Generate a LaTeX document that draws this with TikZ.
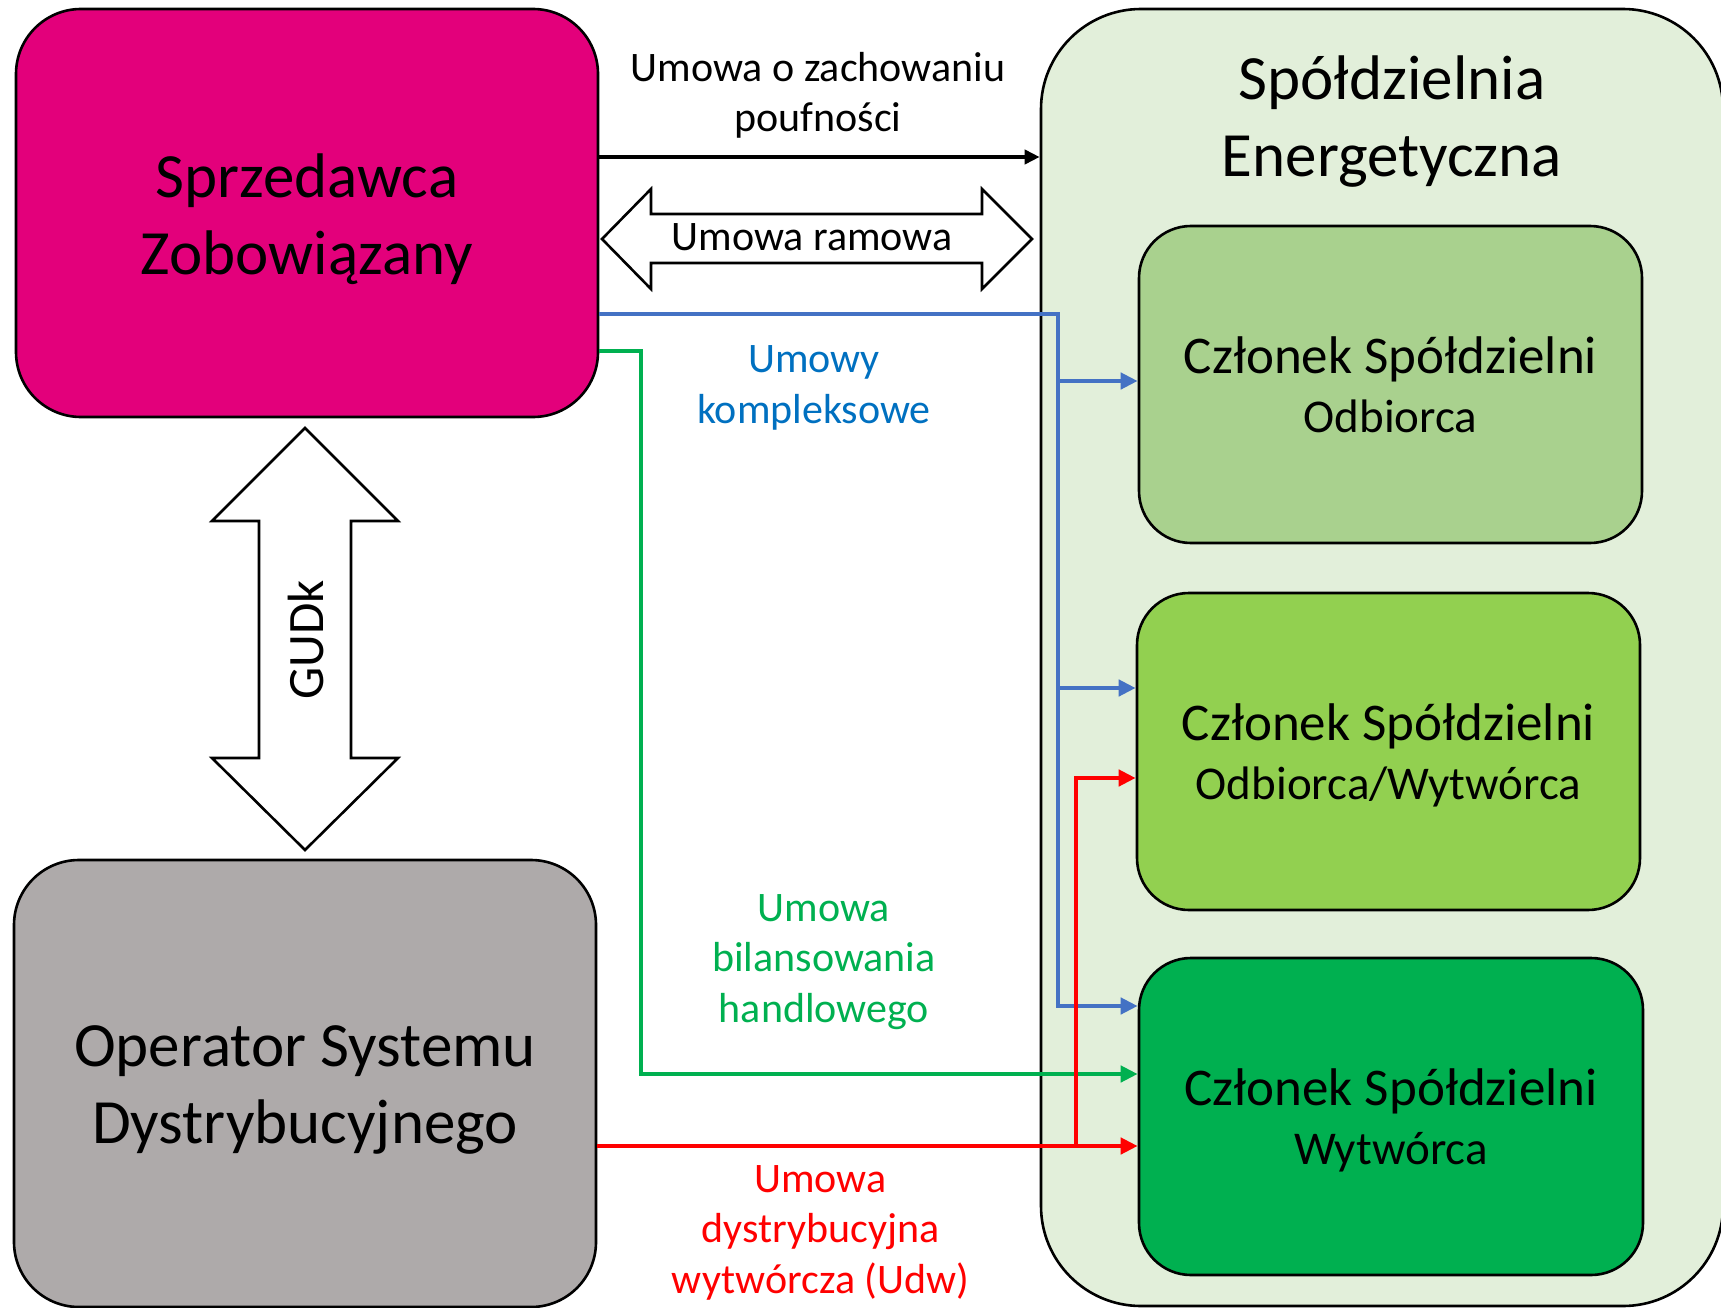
\documentclass[tikz,border=0pt]{standalone}
\usepackage{fontspec}
\setmainfont{Carlito}
\usetikzlibrary{arrows.meta,calc,positioning}
\definecolor{sprzedawca}{HTML}{E3007B}
\definecolor{operator}{HTML}{AEAAAA}
\definecolor{spoldzielnia}{HTML}{E2EFDA}
\definecolor{odbiorca}{HTML}{A9D18E}
\definecolor{odbwyt}{HTML}{92D050}
\definecolor{wytworca}{HTML}{00B050}
\definecolor{niebieski}{HTML}{4472C4}
\definecolor{niebieskitxt}{HTML}{0070C0}
\definecolor{zielony}{HTML}{00B050}
\definecolor{czerwony}{HTML}{FF0000}
\tikzset{
  box/.style={draw=black,line width=2.6pt,rounded corners=#1,inner sep=0pt},
  blok/.style={draw=black,fill=white,line width=2.6pt},
  opis/.style={anchor=base,align=center,inner sep=0pt,font=\fontsize{42}{50.5}\selectfont},
  duzy/.style={anchor=base,align=center,inner sep=0pt,font=\fontsize{63}{77}\selectfont},
  czlonek/.style={anchor=base,align=center,inner sep=0pt,font=\fontsize{53}{59}\selectfont},
  linia/.style={line width=4.3pt,-{Triangle[length=17pt,width=16pt]}}
}

\begin{document}
\begin{tikzpicture}[x=1pt,y=-1pt]
\useasboundingbox (0,0) rectangle (1721,1308);

\node[box=100pt,fill=spoldzielnia,minimum width=682pt,minimum height=1297pt] (sp) at (1382,657.5) {};
\node[box=65pt,fill=sprzedawca,minimum width=582pt,minimum height=408pt] (sz) at (307,213) {};
\node[box=65pt,fill=operator,minimum width=582pt,minimum height=447pt] (osd) at (305,1083.5) {};
\node[box=52pt,fill=odbiorca,minimum width=503pt,minimum height=317pt] (cz1) at (1390.5,384.5) {};
\node[box=52pt,fill=odbwyt,minimum width=503pt,minimum height=317pt] (cz2) at (1388.5,751.5) {};
\node[box=52pt,fill=wytworca,minimum width=504pt,minimum height=317pt] (cz3) at (1391,1116.5) {};

\node[duzy] (szt) at (307,274) {Sprzedawca\\Zobowiązany};
\node[duzy] (osdt) at (305,1143) {Operator Systemu\\Dystrybucyjnego};
\node[duzy] (spt) at (1392,177) {Spółdzielnia\\Energetyczna};
\node[czlonek] (cz1t) at (1390.5,432) {Członek Spółdzielni\\{\fontsize{47}{59}\selectfont Odbiorca}};
\node[czlonek] (cz2t) at (1388.5,799) {Członek Spółdzielni\\{\fontsize{47}{59}\selectfont Odbiorca/Wytwórca}};
\node[czlonek] (cz3t) at (1391,1164) {Członek Spółdzielni\\{\fontsize{47}{59}\selectfont Wytwórca}};

\draw[blok] (602,239) -- (651,189) -- (651,214) -- (982,214) -- (982,189) -- (1032,239) -- (982,289) -- (982,263) -- (651,263) -- (651,289) -- cycle;
\node[opis] (ramowa) at (812,250) {Umowa ramowa};
\draw[blok] (305,428) -- (398,521) -- (351,521) -- (351,758) -- (398,758) -- (305,850) -- (212,758) -- (259,758) -- (259,521) -- (212,521) -- cycle;
\node[anchor=base,inner sep=0pt,rotate=90,font=\fontsize{51}{60}\selectfont] (gudk) at (323,640) {GUDk};

\node[opis] (poufnosc) at (818,132) {Umowa o zachowaniu\\poufności};
\node[opis,text=niebieskitxt] (kompleks) at (814,423) {Umowy\\kompleksowe};
\node[opis,text=zielony] (bilans) at (824,1022) {Umowa\\bilansowania\\handlowego};
\node[opis,text=czerwony] (udw) at (820.5,1293) {Umowa\\dystrybucyjna\\wytwórcza (Udw)};

\coordinate (kn) at (1058,314);
\coordinate (kz) at (641,351);
\coordinate (kc) at (1076,1146);
\draw[line width=4pt,-{Triangle[length=15pt,width=14pt]}] (sz.east |- 0,157) -- (sp.west |- 0,157);
\draw[linia,niebieski] (sz.east |- kn) -- (kn) |- (cz3.west |- 0,1006);
\draw[linia,niebieski] (kn |- 0,381) -- (cz1.west |- 0,381);
\draw[linia,niebieski] (kn |- 0,688) -- (cz2.west |- 0,688);
\draw[linia,zielony] (sz.east |- kz) -- (kz) |- (cz3.west |- 0,1074);
\draw[linia,czerwony] (osd.east |- kc) -- (cz3.west |- kc);
\draw[linia,czerwony] (kc) |- (cz2.west |- 0,778);
\end{tikzpicture}
\end{document}
